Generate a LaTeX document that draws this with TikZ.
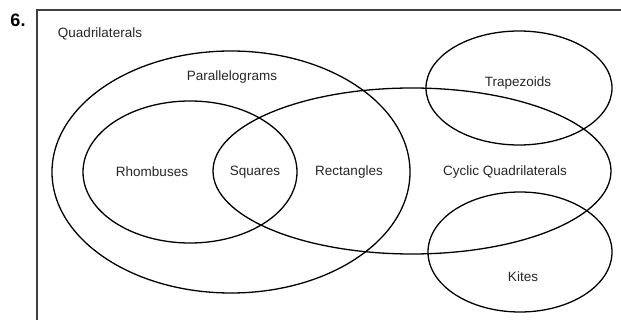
\documentclass[tikz,border=0pt]{standalone}
\usepackage{fontspec}
\setmainfont{Liberation Sans}
\begin{document}
\begin{tikzpicture}[x=1pt,y=-1pt,
  venn/.style={draw=black,line width=1.3pt},
  lbl/.style={font=\fontsize{13.5}{15}\selectfont,inner sep=0pt,text=black!85}]
\useasboundingbox (0,0) rectangle (621,320);
\draw[line width=1.6pt,black!75] (37,320) -- (37,10) -- (621,10);
\node[font=\fontsize{18}{20}\selectfont\bfseries,inner sep=0pt] (num) at (18,20) {6.};
\node[lbl] (quad) at (100,34) {Quadrilaterals};
% ellipses
\draw[venn] (231,172) ellipse [x radius=179,y radius=121];
\draw[venn] (190,172) ellipse [x radius=107,y radius=71];
\draw[venn] (412,171) ellipse [x radius=199,y radius=83];
\draw[venn] (519,88) ellipse [x radius=93,y radius=57];
\draw[venn] (520,252) ellipse [x radius=92,y radius=60];
% labels
\node[lbl] (par) at (232,77) {Parallelograms};
\node[lbl] (rho) at (152,172) {Rhombuses};
\node[lbl] (squ) at (255,172) {Squares};
\node[lbl] (rec) at (349,172) {Rectangles};
\node[lbl] (cyc) at (505,172) {Cyclic Quadrilaterals};
\node[lbl] (tra) at (518,83) {Trapezoids};
\node[lbl] (kit) at (523,277) {Kites};
\end{tikzpicture}
\end{document}
